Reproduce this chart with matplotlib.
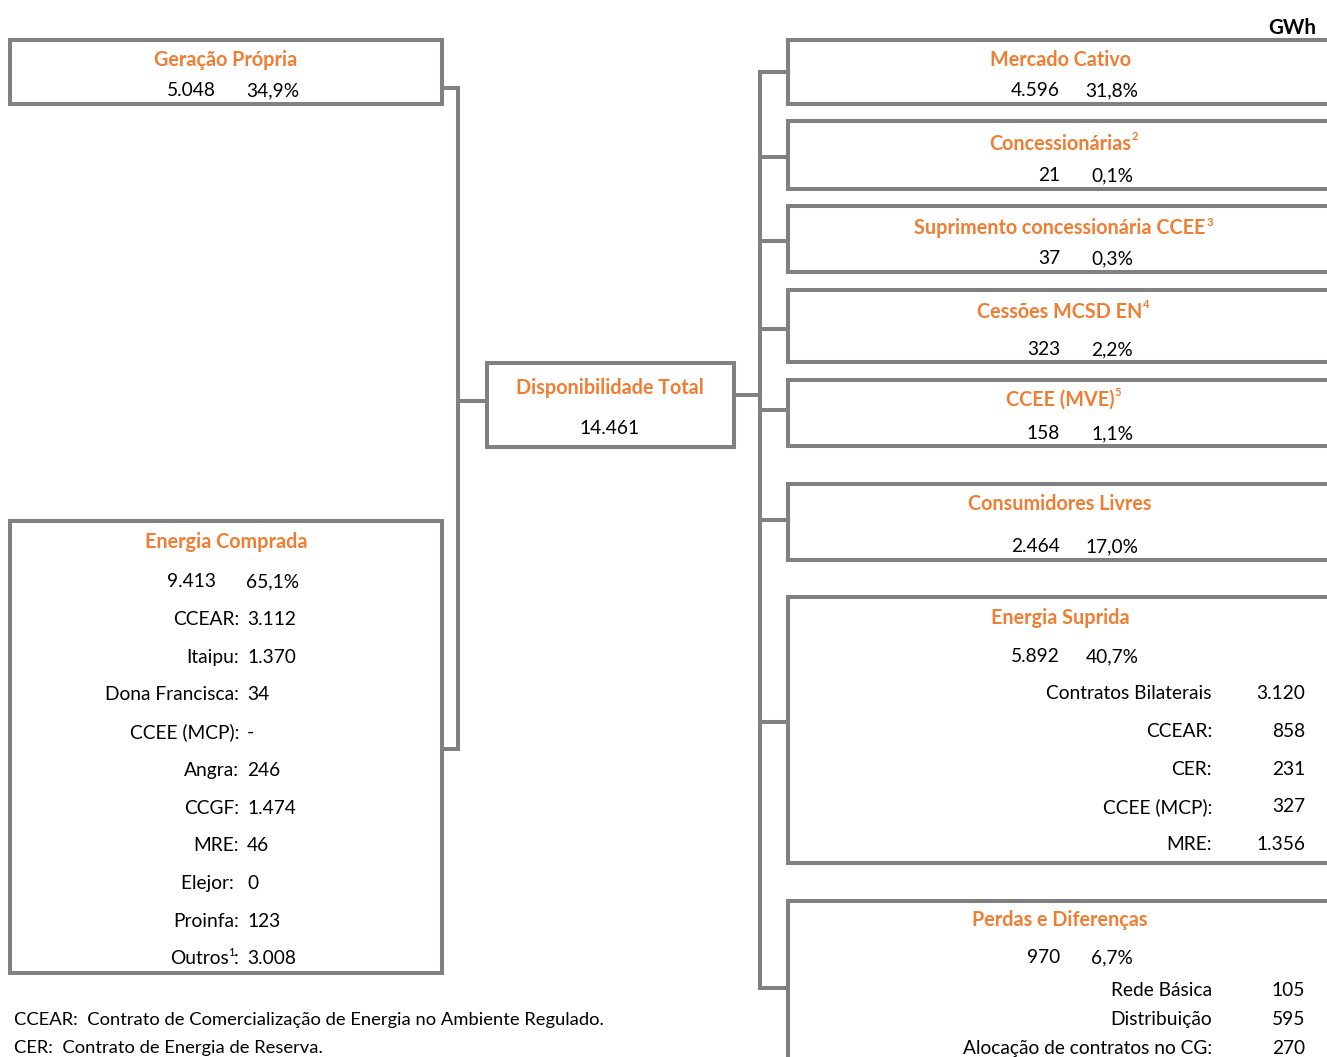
import matplotlib.pyplot as plt
from matplotlib.patches import Rectangle

plt.rcParams['font.family'] = ['Lato', 'DejaVu Sans']

W, H = 1327, 1057
ORANGE = '#F07D32'
GRAY = '#808080'
LW = 2.9
FS = 13.8     # body text
FS_T = 14.2   # titles
DY = 1.5      # text nudge down

# ---- data ----
gen_title = 'Geração Própria'
gen_val, gen_pct = '5.048', '34,9%'

buy_title = 'Energia Comprada'
buy_val, buy_pct = '9.413', '65,1%'
buy_labels = ['CCEAR:', 'Itaipu:', 'Dona Francisca:', 'CCEE (MCP):', 'Angra:',
              'CCGF:', 'MRE:', 'Elejor: ', 'Proinfa:', 'Outros:']
buy_values = ['3.112', '1.370', '34', '-', '246', '1.474', '46', '0', '123', '3.008']

tot_title = 'Disponibilidade Total'
tot_val = '14.461'

out_titles = ['Mercado Cativo', 'Concessionárias', 'Suprimento concessionária CCEE',
              'Cessões MCSD EN', 'CCEE (MVE)', 'Consumidores Livres',
              'Energia Suprida', 'Perdas e Diferenças']
out_notes = ['', '2', '3', '4', '5', '', '', '']
out_vals = ['4.596', '21', '37', '323', '158', '2.464', '5.892', '970']
out_pcts = ['31,8%', '0,1%', '0,3%', '2,2%', '1,1%', '17,0%', '40,7%', '6,7%']

sup_labels = ['Contratos Bilaterais', 'CCEAR:', 'CER:', 'CCEE (MCP):', 'MRE:']
sup_values = ['3.120', '858', '231', '327', '1.356']

loss_labels = ['Rede Básica', 'Distribuição', 'Alocação de contratos no CG:']
loss_values = ['105', '595', '270']

footnotes = ['CCEAR:  Contrato de Comercialização de Energia no Ambiente Regulado.',
             'CER:  Contrato de Energia de Reserva.']

# ---- layout (pixels) ----
out_box_y = [(40, 104), (121, 189), (206, 272), (290, 362), (380, 446),
             (484, 560), (597, 863), (901, 1080)]
out_title_y = [58, 142, 227, 310, 398, 503, 616, 919]
out_val_y = [89, 174, 257, 348, 432, 545, 655, 956]
out_link_y = [72, 157, 241, 329, 410, 520, 722, 988]

fig = plt.figure(figsize=(W / 100, H / 100), dpi=100)
ax = fig.add_axes([0, 0, 1, 1])
ax.set_xlim(0, W)
ax.set_ylim(H, 0)
ax.axis('off')


def box(x0, y0, x1, y1):
    ax.add_patch(Rectangle((x0, y0), x1 - x0, y1 - y0, facecolor='white',
                           edgecolor=GRAY, lw=LW, joinstyle='miter', zorder=3))


def line(xs, ys):
    ax.plot(xs, ys, color=GRAY, lw=LW, solid_capstyle='projecting',
            solid_joinstyle='miter', zorder=2)


def title(x, y, s, note=''):
    t = ax.text(x, y + DY, s, color=ORANGE, fontsize=FS_T, fontweight='bold',
                ha='center', va='center', zorder=5)
    if note:
        fig.canvas.draw()
        bb = t.get_window_extent()
        ax.text(bb.x1 + 0.5, H - bb.y1 - 2, note, color=ORANGE, fontsize=8,
                fontweight='bold', ha='left', va='top', zorder=5)


def txt(x, y, s, ha='left', **kw):
    return ax.text(x, y + DY, s, color='black', fontsize=FS, ha=ha, va='center',
                   zorder=5, **kw)


# connectors
line([442, 458, 458, 442], [88, 88, 749, 749])
line([458, 487], [401, 401])
line([734, 760], [395, 395])
line([788, 760, 760, 788], [out_link_y[0], out_link_y[0], out_link_y[-1], out_link_y[-1]])
for yl in out_link_y[1:-1]:
    line([760, 788], [yl, yl])

# left boxes
box(10, 40, 442, 104)
title(226, 58, gen_title)
txt(216, 89, gen_val, ha='right')
txt(273, 89, gen_pct, ha='center')

box(10, 521, 442, 973)
title(226, 541, buy_title)
txt(216, 580, buy_val, ha='right')
txt(273, 580, buy_pct, ha='center')
for i, (lab, val) in enumerate(zip(buy_labels, buy_values)):
    yy = 618 + i * 37.7
    if lab == 'Outros:':
        t = txt(239, yy, ':', ha='right')
        fig.canvas.draw()
        bb = t.get_window_extent()
        ax.text(bb.x0, yy - 10, '1', fontsize=8, ha='right', va='top', zorder=5)
        txt(bb.x0 - 5, yy, 'Outros', ha='right')
    else:
        txt(239, yy, lab, ha='right')
    txt(247, yy, val)

# total
box(487, 363, 734, 447)
title(610, 386, tot_title)
txt(610, 427, tot_val, ha='center')

# right boxes
for (y0, y1), ty, vy, s, n, v, p in zip(out_box_y, out_title_y, out_val_y,
                                       out_titles, out_notes, out_vals, out_pcts):
    box(788, y0, 1345, y1)
    title(1060, ty, s, n)
    txt(1060, vy, v, ha='right')
    txt(1112, vy, p, ha='center')

for i, (lab, val) in enumerate(zip(sup_labels, sup_values)):
    yy = 692 + i * 37.8
    txt(1212, yy, lab, ha='right')
    txt(1305, yy, val, ha='right')

for i, (lab, val) in enumerate(zip(loss_labels, loss_values)):
    yy = 989 + i * 29
    txt(1212, yy, lab, ha='right')
    txt(1305, yy, val, ha='right')

for i, s in enumerate(footnotes):
    ax.text(14, 1019 + DY + i * 28, s, fontsize=13.2, ha='left', va='center', zorder=5)

ax.text(1316, 27 + DY, 'GWh', fontsize=14.8, fontweight='bold', ha='right', va='center')

fig.savefig('out.png', dpi=100)
